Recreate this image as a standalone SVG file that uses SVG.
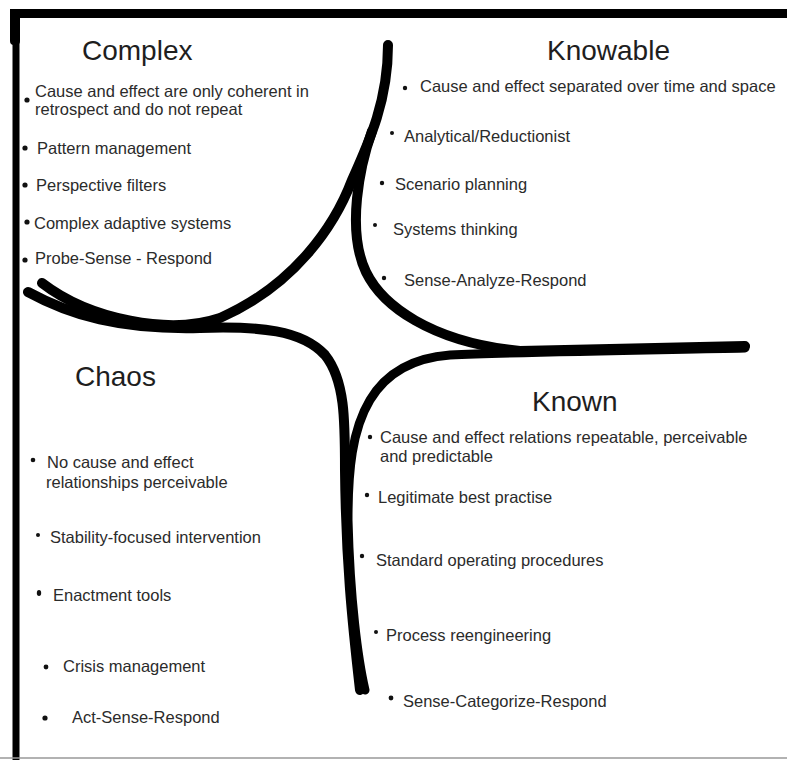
<svg xmlns="http://www.w3.org/2000/svg" width="787" height="760" viewBox="0 0 787 760">
<style>
.t{font-family:"Liberation Sans",Arial,sans-serif;font-size:28px;fill:#1e1e1e}
.b{font-family:"Liberation Sans",Arial,sans-serif;font-size:16.5px;fill:#2b2b2b}
.d{fill:#111}
.s{fill:none;stroke:#000;stroke-linecap:round;stroke-linejoin:round}
</style>
<rect width="787" height="760" fill="#fff"/>
<g id="frame">
<rect x="10" y="9" width="777" height="9" fill="#000"/>
<rect x="12.5" y="9" width="7" height="751" fill="#000"/>
<rect x="10" y="9" width="10" height="36" rx="4" fill="#000"/>
<line x1="0" y1="758" x2="787" y2="758" stroke="#999" stroke-width="1.5"/>
</g>
<g id="boundaries">
<path class="s" stroke-width="10" d="M388,45 C388,100 370,140 352,180 C335,225 295,285 220,318 C170,335 90,320 42,283"/>
<path class="s" stroke-width="10" d="M28,292 C70,315 120,330 200,328 C260,326 302,330 325,355 C345,380 345,420 345,470 C346,560 352,620 360,690"/>
<path class="s" stroke-width="10" d="M372,131 C360,165 346,230 366,272 C382,305 430,342 520,351 L745,346"/>
<path class="s" stroke-width="9" d="M745,348 C650,350 520,352 450,355 C410,358 385,375 370,400 C352,430 348,470 348,520 C350,600 358,660 365,690"/>
<path class="s" stroke-width="4" d="M600,348 L748,346"/>
</g>
<g id="complex">
<text class="t" x="82" y="60">Complex</text>
<circle class="d" cx="27" cy="100" r="2.6"/>
<text class="b" x="35" y="97">Cause and effect are only coherent in</text>
<text class="b" x="35" y="115">retrospect and do not repeat</text>
<circle class="d" cx="25" cy="148" r="2.6"/>
<text class="b" x="37" y="154">Pattern management</text>
<circle class="d" cx="25" cy="185" r="2.6"/>
<text class="b" x="36" y="191">Perspective filters</text>
<circle class="d" cx="27" cy="222" r="2.6"/>
<text class="b" x="34" y="229">Complex adaptive systems</text>
<circle class="d" cx="25" cy="260" r="2.6"/>
<text class="b" x="35" y="264">Probe-Sense - Respond</text>
</g>
<g id="knowable">
<text class="t" x="547" y="60">Knowable</text>
<circle class="d" cx="405" cy="88" r="2.2"/>
<text class="b" x="420" y="92">Cause and effect separated over time and space</text>
<circle class="d" cx="392" cy="133" r="2"/>
<text class="b" x="404" y="142">Analytical/Reductionist</text>
<circle class="d" cx="382" cy="183" r="2.2"/>
<text class="b" x="395" y="190">Scenario planning</text>
<circle class="d" cx="375" cy="225" r="2"/>
<text class="b" x="393" y="235">Systems thinking</text>
<circle class="d" cx="384" cy="278" r="2.2"/>
<text class="b" x="404" y="286">Sense-Analyze-Respond</text>
</g>
<g id="chaos">
<text class="t" x="75" y="386">Chaos</text>
<circle class="d" cx="33" cy="460" r="2.3"/>
<text class="b" x="47" y="468">No cause and effect</text>
<text class="b" x="46" y="488">relationships perceivable</text>
<circle class="d" cx="38" cy="535" r="2"/>
<text class="b" x="50" y="543">Stability-focused intervention</text>
<ellipse class="d" cx="39" cy="593" rx="2.2" ry="3"/>
<text class="b" x="53" y="601">Enactment tools</text>
<circle class="d" cx="46" cy="667" r="2.4"/>
<text class="b" x="63" y="672">Crisis management</text>
<circle class="d" cx="45" cy="718" r="2.6"/>
<text class="b" x="72" y="723">Act-Sense-Respond</text>
</g>
<g id="known">
<text class="t" x="532" y="411">Known</text>
<circle class="d" cx="370" cy="437" r="2.2"/>
<text class="b" x="380" y="443">Cause and effect relations repeatable, perceivable</text>
<text class="b" x="380" y="462">and predictable</text>
<circle class="d" cx="367" cy="495" r="2.2"/>
<text class="b" x="378" y="503">Legitimate best practise</text>
<circle class="d" cx="362" cy="556" r="2.2"/>
<text class="b" x="376" y="566">Standard operating procedures</text>
<circle class="d" cx="376" cy="632" r="2"/>
<text class="b" x="386" y="641">Process reengineering</text>
<circle class="d" cx="391" cy="698" r="2.4"/>
<text class="b" x="403" y="707">Sense-Categorize-Respond</text>
</g>
</svg>
